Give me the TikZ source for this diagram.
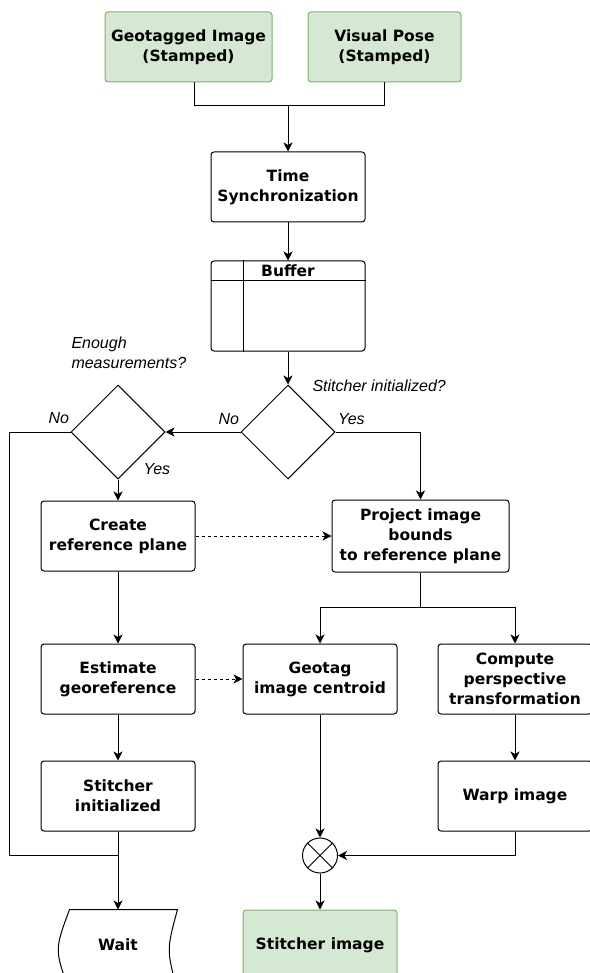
\documentclass[tikz,border=0pt]{standalone}
\usepackage{fontspec}
\setmainfont{DejaVu Sans}
\newfontfamily\lblfont{Liberation Sans}
\usetikzlibrary{positioning,shapes.geometric,arrows.meta,calc}
\definecolor{boxgreen}{HTML}{D5E8D4}
\definecolor{edgegreen}{HTML}{82B366}
\tikzset{
  op/.style={rectangle, rounded corners=3pt, minimum width=154pt, minimum height=70pt, text centered, align=center, draw=black, fill=white, font=\bfseries\fontsize{15.5}{20}\selectfont},
  io/.style={op, draw=edgegreen, fill=boxgreen},
  cn/.style={diamond, minimum width=94pt, minimum height=94pt, inner sep=0pt, draw=black},
  bf/.style={op, minimum height=90pt},
  lb/.style={font=\lblfont\itshape\fontsize{16}{20}\selectfont, inner sep=1pt},
  mx/.style={circle, minimum size=35pt, inner sep=0pt, draw=black},
  node distance=40pt
}

\begin{document}
\begin{tikzpicture}[line width=1pt, >={Stealth[length=9pt,width=9pt,inset=2.5pt]}, x=1pt, y=1pt]
	\useasboundingbox (0,0) rectangle (589,-973);
	\node[io, minimum width=167pt] (geo) at (188.5,-47) {Geotagged Image\\(Stamped)};
	\node[io, minimum width=153pt] (pose) at (384.5,-47) {Visual Pose\\(Stamped)};
	\node[op] (sync) at (288,-187) {Time\\Synchronization};
	\node[bf, below=38pt of sync] (buffer) {};
	\node[font=\bfseries\fontsize{15.5}{20}\selectfont] (buftitle) at ([yshift=-10pt]buffer.north) {Buffer};
	\node[cn, below=33pt of buffer] (init) {};
	\node[lb, anchor=west] (initq) at ([xshift=23pt,yshift=-1.5pt]init.north) {Stitcher initialized?};
	\node[cn, left=75pt of init] (enough) {};
	\node[lb, align=left, anchor=north west] (enoughq) at ([xshift=-48pt,yshift=49pt]enough.north) {Enough\\measurements?};
	\node[op, below=21pt of enough] (plane) {Create\\reference plane};
	\node[op, minimum width=177pt, minimum height=72pt, right=136pt of plane] (project) {Project image\\bounds\\to reference plane};
	\node[op, below=72pt of plane] (georef) {Estimate\\georeference};
	\node[op, right=47pt of georef] (centroid) {Geotag\\image centroid};
	\node[op, right=40pt of centroid] (persp) {Compute\\perspective\\transformation};
	\node[op, below=46pt of georef] (stinit) {Stitcher\\initialized};
	\node[op, below=46pt of persp] (warp) {Warp image};
	\node[mx, below=123pt of centroid] (mix) {};
	\node[io, below=36pt of mix] (result) {Stitcher image};
	\node[minimum width=118pt, minimum height=70pt, font=\bfseries\fontsize{15.5}{20}\selectfont, below=78pt of stinit] (wait) {Wait};
	%
	\draw ([yshift=-20pt]buffer.north west) -- ([yshift=-20pt]buffer.north east);
	\draw ([xshift=33pt]buffer.north west) -- ([xshift=33pt]buffer.south west);
	\draw (mix.north west) -- (mix.south east) (mix.north east) -- (mix.south west);
	\draw ([xshift=11pt]wait.north west) -- (wait.north east) .. controls ([xshift=-11pt,yshift=-5pt]wait.east) .. ([yshift=-10pt]wait.south east) -- ([xshift=11pt,yshift=-10pt]wait.south west) .. controls ([xshift=-4pt,yshift=-5pt]wait.west) .. cycle;
	%
	\coordinate[above=46pt of sync.north] (join);
	\draw ([xshift=6pt]geo.south) |- (join) -| (pose.south);
	\draw[->] (join) -- (sync);
	\draw[->] (sync) -- (buffer);
	\draw[->] (buffer) -- (init);
	\draw[->] (init) -- node[lb, pos=0, above left=6pt and 0pt] {No} (enough);
	\draw[->] (init.east) -| node[lb, pos=0, above right=6pt and 1pt] {Yes} (project);
	\draw[->] (enough) -- node[lb, pos=0, above right=3pt and 24pt] {Yes} (plane);
	\coordinate (meet) at (stinit |- mix);
	\draw (enough.west) -- node[lb, pos=0, above left=7pt and 0pt] {No} ++(-61pt,0) |- (meet);
	\draw[->, dashed] (plane) -- (project);
	\draw[->, dashed] (georef) -- (centroid);
	\coordinate[below=35pt of project.south] (split);
	\draw (project) -- (split);
	\draw[->] (split) -| (centroid);
	\draw[->] (split) -| (persp);
	\draw[->] (plane) -- (georef);
	\draw[->] (georef) -- (stinit);
	\draw[->] (stinit) -- (wait);
	\draw[->] (persp) -- (warp);
	\draw[->] (centroid) -- (mix);
	\draw[->] (warp) |- (mix);
	\draw[->] (mix) -- (result);
\end{tikzpicture}
\end{document}
